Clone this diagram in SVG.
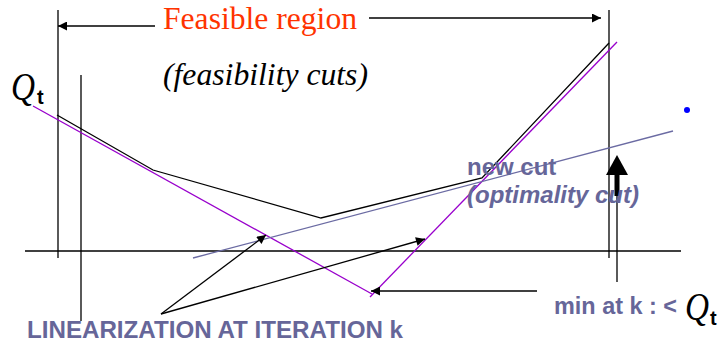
<svg xmlns="http://www.w3.org/2000/svg" width="721" height="342" viewBox="0 0 721 342">
  <style>
    .ln { stroke: #000; stroke-width: 1.3; fill: none; }
    .cut { stroke: #9900cc; stroke-width: 1.3; fill: none; }
    .opt { stroke: #6b6ba3; stroke-width: 1.3; fill: none; }
    .serif { font-family: "Liberation Serif", "Times New Roman", serif; }
    .sans { font-family: "Liberation Sans", Arial, sans-serif; font-weight: bold; fill: #666699; }
    .q { font-family: "Liberation Serif", "Times New Roman", serif; font-style: italic; font-size: 40px; fill: #000; }
    .sub { font-family: "Liberation Sans", Arial, sans-serif; font-weight: bold; font-size: 20px; fill: #000; }
  </style>
  <defs>
    <marker id="head" viewBox="0 0 10 10" refX="10" refY="5" markerWidth="10" markerHeight="9" markerUnits="userSpaceOnUse" orient="auto">
      <path d="M0,0 L10,5 L0,10 Z" fill="#000"/>
    </marker>
  </defs>

  <!-- axes and bounds of the feasible region -->
  <g id="axes">
    <line class="ln" x1="25" y1="251" x2="681" y2="251"/>
    <line class="ln" x1="58" y1="10" x2="58" y2="258"/>
    <line class="ln" x1="81" y1="75" x2="81" y2="321"/>
    <line class="ln" x1="609" y1="10" x2="609" y2="258"/>
    <line class="ln" x1="617" y1="196" x2="617" y2="282"/>
  </g>

  <!-- true cost function Q_t (piecewise linear) -->
  <g id="cost-curve">
    <polyline class="ln" points="57,115 153,170 321,218 482,178 609,43"/>
  </g>

  <!-- linearizations and the new optimality cut -->
  <g id="cuts">
    <line class="cut" x1="33" y1="106" x2="372" y2="294"/>
    <line class="cut" x1="370" y1="297" x2="617" y2="42"/>
    <line class="opt" x1="193" y1="258" x2="673" y2="131"/>
    <circle cx="687" cy="110" r="3" fill="#0000ff"/>
  </g>

  <!-- connectors -->
  <g id="connectors">
    <line class="ln" x1="155" y1="26" x2="58" y2="26" marker-end="url(#head)"/>
    <line class="ln" x1="369" y1="18" x2="601" y2="18" marker-end="url(#head)"/>
    <line class="ln" x1="161" y1="314" x2="266" y2="235" marker-end="url(#head)"/>
    <line class="ln" x1="161" y1="314" x2="425" y2="239" marker-end="url(#head)"/>
    <line class="ln" x1="537" y1="291" x2="371" y2="291" marker-end="url(#head)"/>
    <!-- thick upward arrow -->
    <rect x="614.5" y="174" width="5" height="22" fill="#000"/>
    <polygon points="617,155 628,175 606,175" fill="#000"/>
  </g>

  <!-- labels -->
  <g id="labels">
    <text class="serif" x="163" y="29" font-size="31" fill="#ff3300" textLength="194" lengthAdjust="spacingAndGlyphs">Feasible region</text>
    <text class="serif" x="163" y="85" font-size="31" font-style="italic" fill="#000" textLength="205" lengthAdjust="spacingAndGlyphs">(feasibility cuts)</text>
    <text class="q" x="11" y="100" textLength="24" lengthAdjust="spacingAndGlyphs">Q</text>
    <text class="sub" x="37" y="104">t</text>
    <text class="sans" x="467" y="175" font-size="24">new cut</text>
    <text class="sans" x="467" y="203" font-size="24" font-style="italic" textLength="172" lengthAdjust="spacingAndGlyphs">(optimality cut)</text>
    <text class="sans" x="27" y="338" font-size="23" textLength="376" lengthAdjust="spacingAndGlyphs">LINEARIZATION AT ITERATION k</text>
    <text class="sans" x="554" y="314" font-size="23" textLength="123" lengthAdjust="spacingAndGlyphs">min at k : &lt;</text>
    <text class="q" x="685" y="320" textLength="24" lengthAdjust="spacingAndGlyphs">Q</text>
    <text class="sub" x="710" y="325">t</text>
  </g>
</svg>
